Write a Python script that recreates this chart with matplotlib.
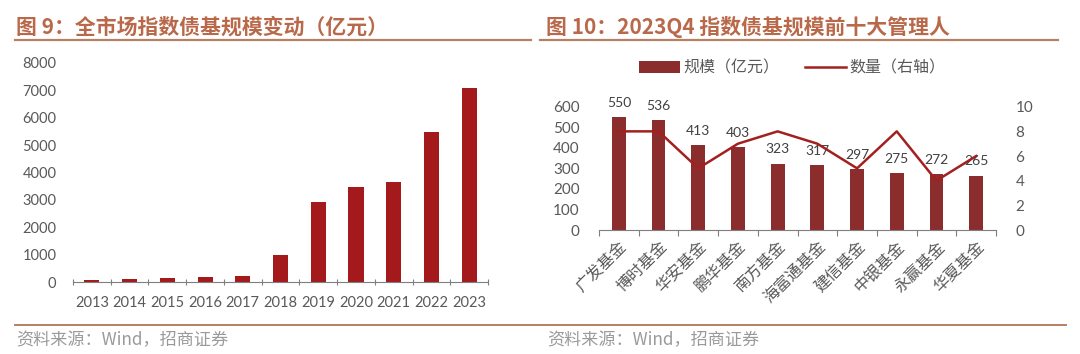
import matplotlib
matplotlib.use("Agg")
import matplotlib.pyplot as plt
import numpy as np
from matplotlib.lines import Line2D

plt.rcParams['font.family'] = ['Lato', 'Noto Sans CJK SC', 'DejaVu Sans']

# ---- data ----
years = ['2013', '2014', '2015', '2016', '2017', '2018', '2019', '2020', '2021', '2022', '2023']
market_scale = [60, 120, 135, 195, 220, 990, 2920, 3480, 3660, 5470, 7080]

managers = ['广发基金', '博时基金', '华安基金', '鹏华基金', '南方基金',
            '海富通基金', '建信基金', '中银基金', '永赢基金', '华夏基金']
manager_scale = [550, 536, 413, 403, 323, 317, 297, 275, 272, 265]
manager_count = [8, 8, 5, 7, 8, 7, 5, 8, 4, 6]

title_left = '图 9：全市场指数债基规模变动（亿元）'
title_right = '图 10：2023Q4 指数债基规模前十大管理人'
source_text = '资料来源：Wind，招商证券'
legend_bar = '规模（亿元）'
legend_line = '数量（右轴）'

# ---- style ----
W, H = 1080, 354
fig = plt.figure(figsize=(W / 100, H / 100), dpi=100)
title_color = '#B9694A'
rule_color = '#B58063'
tick_color = '#595959'
bar_left_color = '#A3191C'
bar_right_color = '#8C2D2D'
line_color = '#A2201F'
cjk = ['Noto Sans CJK SC', 'DejaVu Sans']


def fx(px):
    return px / W


def fy(py):
    return 1 - py / H


# ---- titles & rules ----
fig.text(fx(16), fy(27), title_left, color=title_color, fontsize=15, fontweight='bold',
         family=cjk, va='center', ha='left')
fig.text(fx(546), fy(27), title_right, color=title_color, fontsize=15, fontweight='bold',
         family=cjk, va='center', ha='left')
fig.add_artist(Line2D([fx(15), fx(531)], [fy(40), fy(40)], color=rule_color, lw=1.6))
fig.add_artist(Line2D([fx(540), fx(1058)], [fy(40), fy(40)], color=rule_color, lw=1.6))
fig.add_artist(Line2D([fx(15), fx(1066)], [fy(325), fy(325)], color=rule_color, lw=1.4))
fig.text(fx(16), fy(340), source_text, color='#9A9A9A', fontsize=12.3, family=cjk,
         va='center', ha='left')
fig.text(fx(547), fy(340), source_text, color='#9A9A9A', fontsize=12.3, family=cjk,
         va='center', ha='left')

# ---- left chart ----
ax1 = fig.add_axes([fx(73), fy(282), fx(488 - 73), (282 - 63) / H])
x1 = np.arange(len(years))
ax1.bar(x1, market_scale, width=0.4, color=bar_left_color, zorder=2)
ax1.set_xlim(-0.5, len(years) - 0.5)
ax1.set_ylim(0, 8000)
ax1.set_yticks(np.arange(0, 8001, 1000))
ax1.set_xticks(x1)
ax1.set_xticklabels(years)
ax1.set_xticks(np.arange(-0.5, len(years), 1.0), minor=True)
ax1.tick_params(axis='x', which='major', length=0, pad=10, labelsize=10.5, labelcolor=tick_color)
ax1.tick_params(axis='x', which='minor', length=5, direction='inout', color='#7F7F7F', width=0.8)
ax1.tick_params(axis='y', length=0, pad=12, labelsize=10.5, labelcolor=tick_color)
for s in ['top', 'right', 'left']:
    ax1.spines[s].set_visible(False)
ax1.spines['bottom'].set_color('#7F7F7F')
ax1.spines['bottom'].set_linewidth(0.8)

# ---- right chart ----
ax2 = fig.add_axes([fx(599), fy(230), fx(996 - 599), (230 - 106.7) / H])
x2 = np.arange(len(managers))
bars = ax2.bar(x2, manager_scale, width=0.35, color=bar_right_color, zorder=2, label=legend_bar)
for xi, v in zip(x2, manager_scale):
    ax2.annotate(f'{v}', (xi, v), xytext=(0, 6), textcoords='offset points',
                 ha='center', va='bottom', fontsize=10, color='#404040', zorder=3)
ax2.set_xlim(-0.5, len(managers) - 0.5)
ax2.set_ylim(0, 600)
ax2.set_yticks(np.arange(0, 601, 100))
ax2.set_xticks(x2)
ax2.set_xticklabels(managers, rotation=45, ha='right', rotation_mode='anchor',
                    family=cjk, fontsize=11.5, color=tick_color)
ax2.set_xticks(np.arange(-0.5, len(managers), 1.0), minor=True)
ax2.tick_params(axis='x', which='major', length=0, pad=6)
ax2.tick_params(axis='x', which='minor', length=4, direction='out', color='#7F7F7F', width=0.8)
ax2.tick_params(axis='y', length=0, pad=14, labelsize=11, labelcolor=tick_color)
for s in ['top', 'right', 'left']:
    ax2.spines[s].set_visible(False)
ax2.spines['bottom'].set_color('#7F7F7F')
ax2.spines['bottom'].set_linewidth(0.8)

ax3 = ax2.twinx()
line, = ax3.plot(x2, manager_count, color=line_color, lw=1.8, zorder=5, label=legend_line)
ax3.set_ylim(0, 10)
ax3.set_yticks(np.arange(0, 11, 2))
ax3.tick_params(axis='y', length=0, pad=14, labelsize=11, labelcolor=tick_color)
for s in ['top', 'right', 'left', 'bottom']:
    ax3.spines[s].set_visible(False)

leg = fig.legend([bars, line], [legend_bar, legend_line], loc='center',
                 bbox_to_anchor=(fx(792), fy(68)), ncol=2, frameon=False,
                 prop={'family': cjk, 'size': 11.5}, handlelength=2.6, handleheight=0.8,
                 columnspacing=1.6, handletextpad=0.2)
for t in leg.get_texts():
    t.set_color(tick_color)

fig.savefig('out.png', dpi=100)
